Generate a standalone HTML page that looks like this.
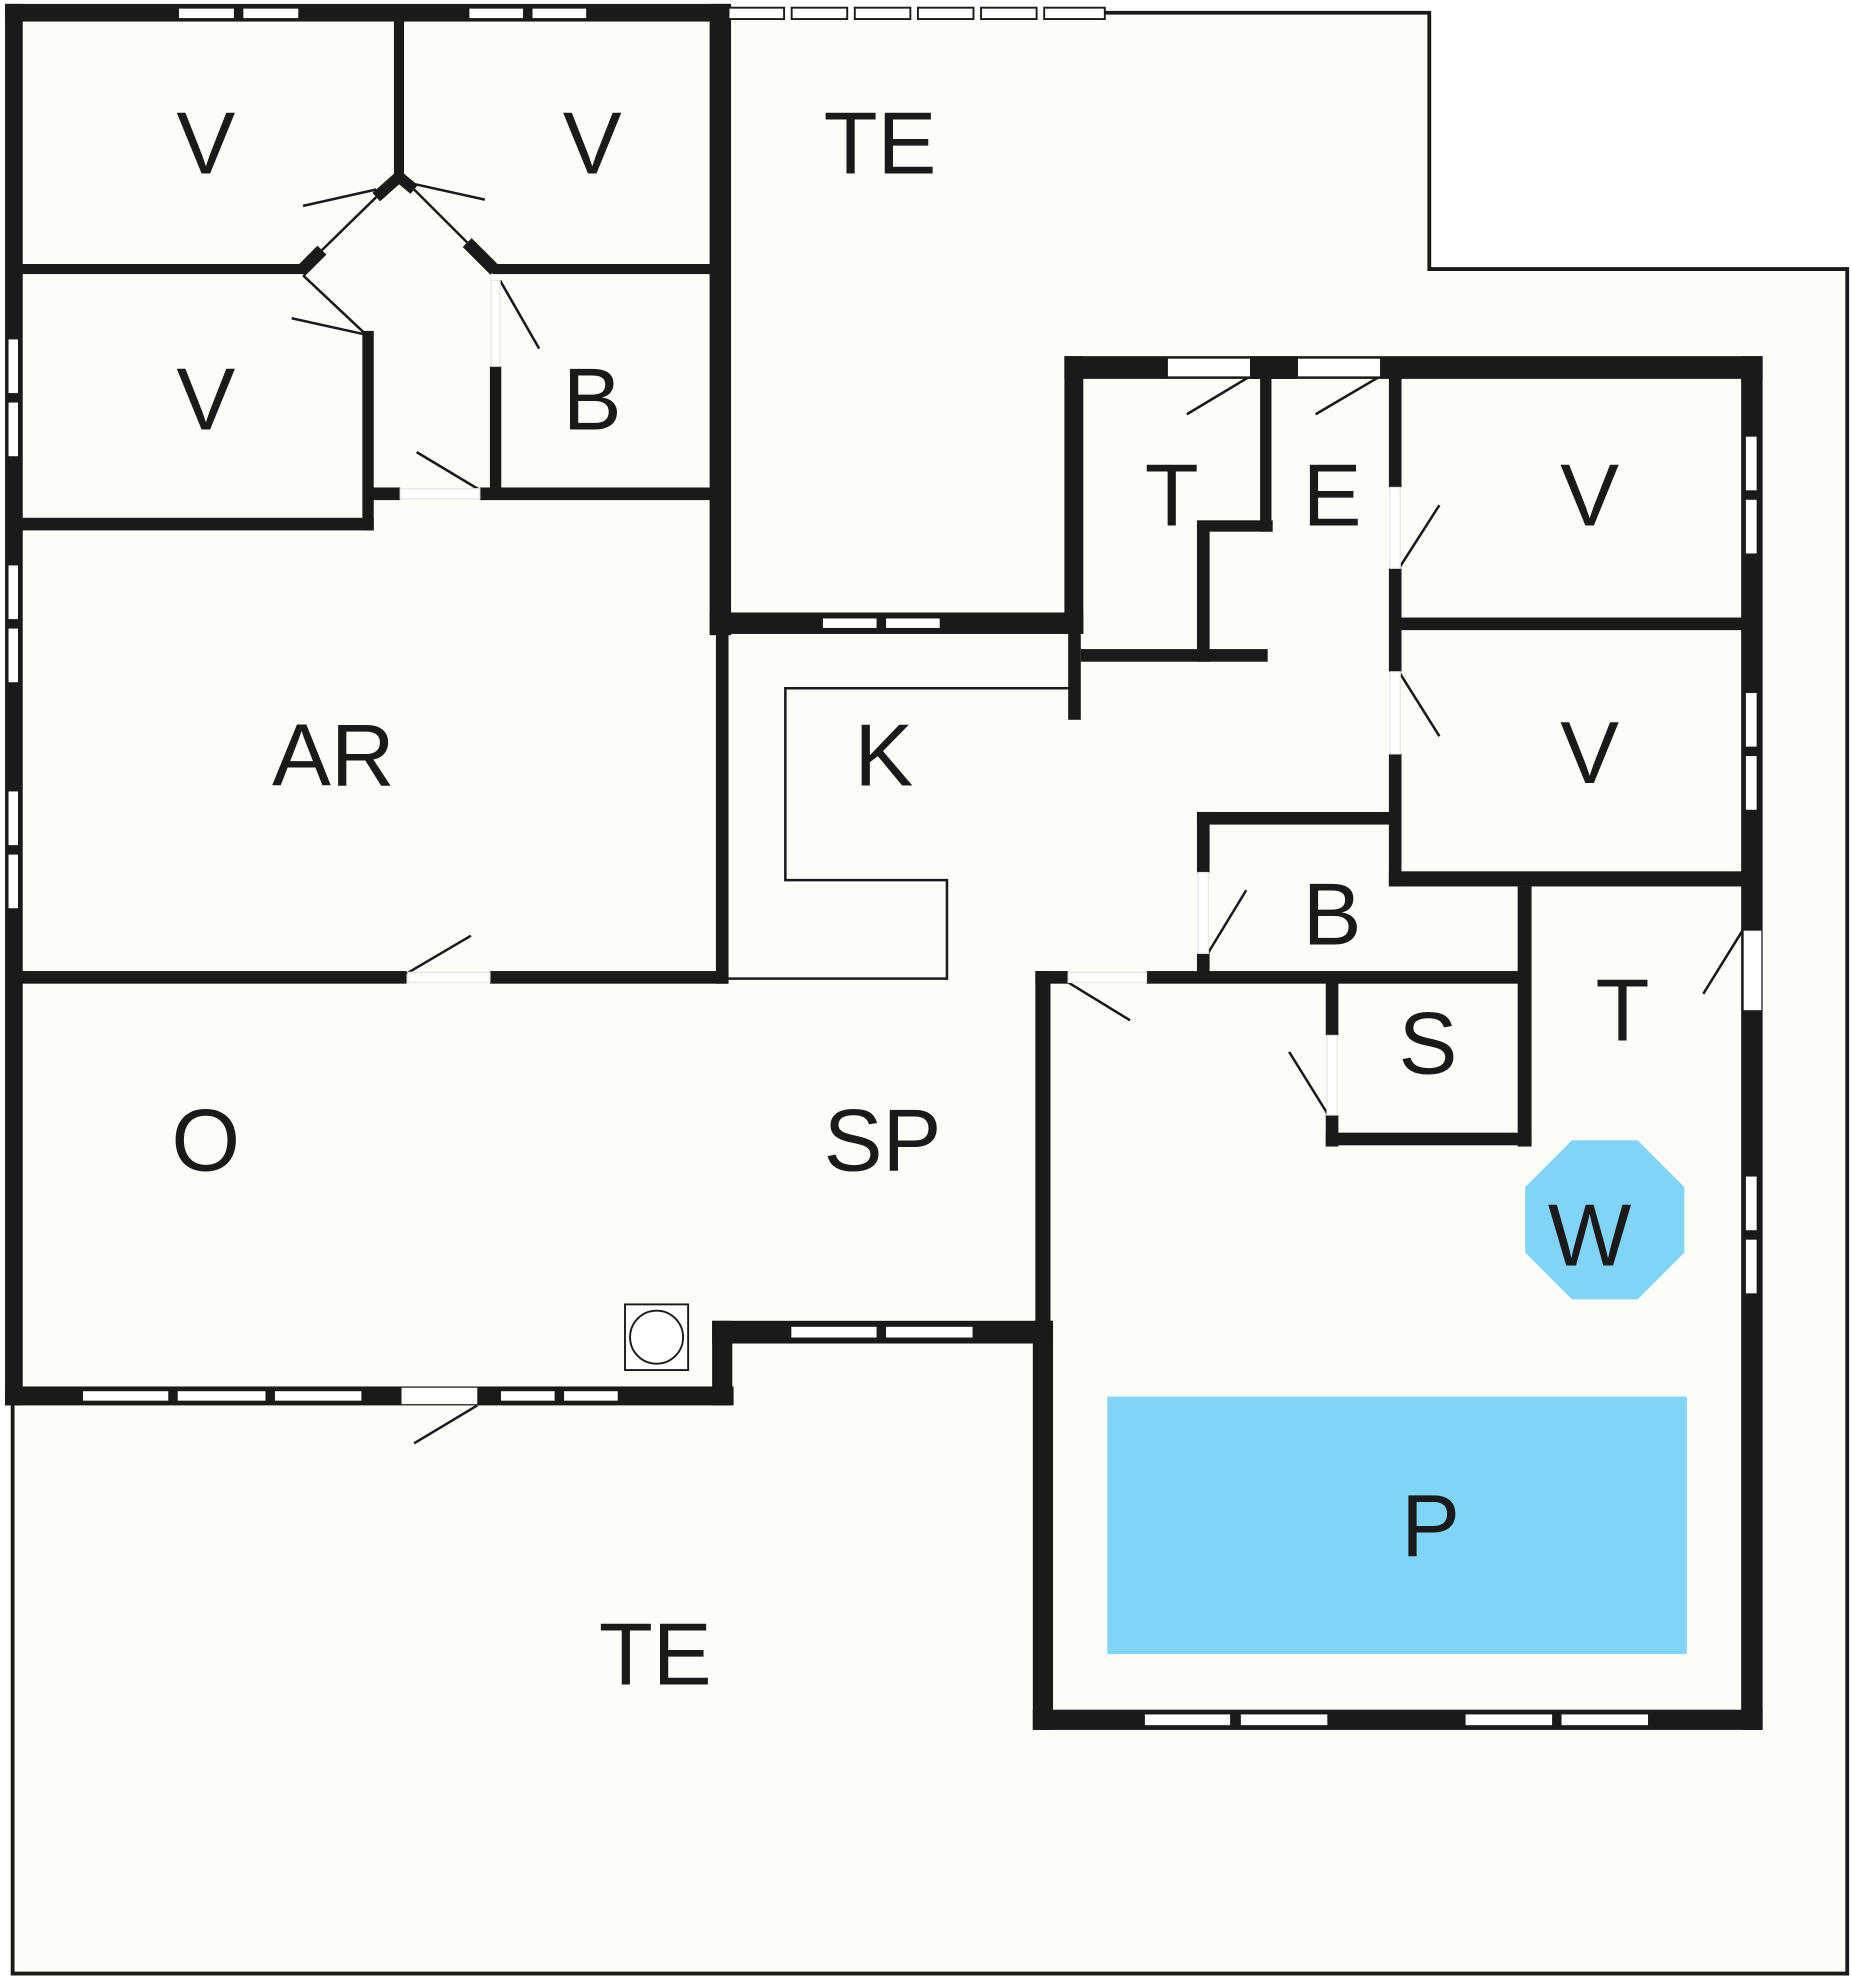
<!DOCTYPE html>
<html><head><meta charset="utf-8"><style>
html,body{margin:0;padding:0;background:#fff;}
svg{display:block;}
text{font-family:"Liberation Sans",sans-serif;font-size:70px;fill:#1a1a1a;text-anchor:middle;dominant-baseline:central;}
</style></head><body>
<svg width="1851" height="1980" viewBox="0 0 1466 1568" xmlns="http://www.w3.org/2000/svg">
<rect x="0" y="0" width="1466" height="1568" fill="#fff"/>
<polygon points="575,10 1132,10 1132,213 1463,213 1463,1563 10,1563 10,10" fill="#fdfdf8"/>
<polyline points="875,10 1132,10 1132,213 1463,213 1463,1563 10,1563 10,1112" fill="none" stroke="#1a1a1a" stroke-width="3"/>
<rect x="877" y="1106" width="459" height="204" fill="#80d4f7"/>
<polygon points="1245,903 1297,903 1334,940 1334,992 1297,1029 1245,1029 1208,992 1208,940" fill="#80d4f7"/>
<g fill="#1a1a1a">
<rect x="4" y="3" width="574" height="14"/>
<rect x="4" y="3" width="14" height="1110"/>
<rect x="4" y="1098" width="577" height="15"/>
<rect x="564" y="1046" width="16" height="67"/>
<rect x="564" y="1046" width="270" height="18"/>
<rect x="818" y="1046" width="16" height="324"/>
<rect x="818" y="1354" width="578" height="16"/>
<rect x="1379" y="282" width="17" height="1088"/>
<rect x="843" y="282" width="553" height="18"/>
<rect x="562" y="3" width="17" height="500"/>
<rect x="562" y="485" width="296" height="17"/>
<rect x="843" y="282" width="15" height="220"/>
<rect x="312" y="16" width="8" height="124"/>
<rect x="16" y="209" width="224" height="8"/>
<rect x="390" y="209" width="174" height="8"/>
<rect x="16" y="410" width="280" height="10"/>
<rect x="287" y="262" width="9" height="158"/>
<rect x="388" y="290" width="9" height="100"/>
<rect x="295" y="386" width="22" height="10"/>
<rect x="380" y="386" width="184" height="10"/>
<rect x="16" y="769" width="306" height="10"/>
<rect x="388" y="769" width="189" height="10"/>
<rect x="567" y="500" width="10" height="279"/>
<rect x="846" y="500" width="10" height="70"/>
<rect x="856" y="514" width="148" height="10"/>
<rect x="948" y="413" width="10" height="111"/>
<rect x="948" y="412" width="60" height="9"/>
<rect x="998" y="290" width="9" height="131"/>
<rect x="990" y="282" width="38" height="18"/>
<rect x="1100" y="290" width="10" height="96"/>
<rect x="1100" y="450" width="10" height="82"/>
<rect x="1100" y="597" width="10" height="105"/>
<rect x="1110" y="489" width="270" height="10"/>
<rect x="1100" y="690" width="280" height="12"/>
<rect x="948" y="643" width="10" height="48"/>
<rect x="948" y="755" width="10" height="20"/>
<rect x="948" y="643" width="160" height="10"/>
<rect x="820" y="769" width="26" height="10"/>
<rect x="908" y="769" width="302" height="10"/>
<rect x="1202" y="702" width="11" height="206"/>
<rect x="1050" y="778" width="10" height="42"/>
<rect x="1050" y="883" width="10" height="25"/>
<rect x="1050" y="897" width="163" height="10"/>
<rect x="820" y="769" width="12" height="280"/>
</g>
<g stroke="#1a1a1a" fill="none">
<line x1="316" y1="140" x2="298" y2="156" stroke-width="9"/>
<line x1="316" y1="140" x2="328" y2="150" stroke-width="9"/>
<line x1="255" y1="198" x2="238" y2="215" stroke-width="10"/>
<line x1="370" y1="192" x2="392" y2="214" stroke-width="10"/>
<line x1="298" y1="156" x2="255" y2="198" stroke-width="2"/>
<line x1="328" y1="150" x2="370" y2="192" stroke-width="2"/>
<line x1="240" y1="218" x2="290" y2="265" stroke-width="2"/>
<polyline points="848,545 622,545 622,697 750,697 750,775 577,775" stroke-width="2"/>
<g stroke-width="2">
<line x1="298" y1="150" x2="240" y2="163"/>
<line x1="325" y1="145" x2="384" y2="158"/>
<line x1="290" y1="265" x2="231" y2="252"/>
<line x1="396" y1="222" x2="427" y2="276"/>
<line x1="380" y1="388" x2="330" y2="358"/>
<line x1="322" y1="771" x2="373" y2="741"/>
<line x1="378" y1="1113" x2="328" y2="1143"/>
<line x1="990" y1="298" x2="940" y2="328"/>
<line x1="1093" y1="298" x2="1042" y2="328"/>
<line x1="1108" y1="450" x2="1140" y2="400"/>
<line x1="1108" y1="532" x2="1140" y2="583"/>
<line x1="956" y1="756" x2="987" y2="705"/>
<line x1="846" y1="778" x2="895" y2="808"/>
<line x1="1052" y1="883" x2="1021" y2="833"/>
<line x1="1380" y1="737" x2="1349" y2="787"/>
</g>
</g>
<g fill="#fff" stroke="#1a1a1a" stroke-width="1.5">
<rect x="141" y="6" width="45" height="9"/><rect x="192" y="6" width="45" height="9"/>
<rect x="371" y="6" width="44" height="9"/><rect x="421" y="6" width="44" height="9"/>
<rect x="577" y="6" width="44" height="9"/><rect x="627" y="6" width="44" height="9"/><rect x="677" y="6" width="44" height="9"/><rect x="727" y="6" width="44" height="9"/><rect x="777" y="6" width="44" height="9"/><rect x="827" y="6" width="48" height="9"/>
<rect x="6" y="268" width="9" height="44"/><rect x="6" y="318" width="9" height="44"/>
<rect x="6" y="447" width="9" height="44"/><rect x="6" y="497" width="9" height="44"/>
<rect x="6" y="626" width="9" height="44"/><rect x="6" y="676" width="9" height="44"/>
<rect x="651" y="489" width="44" height="9"/><rect x="701" y="489" width="44" height="9"/>
<rect x="65" y="1101" width="69" height="9"/><rect x="140" y="1101" width="71" height="9"/><rect x="217" y="1101" width="70" height="9"/>
<rect x="396" y="1101" width="44" height="9"/><rect x="446" y="1101" width="44" height="9"/>
<rect x="626" y="1050" width="69" height="10"/><rect x="701" y="1050" width="70" height="10"/>
<rect x="906" y="1357" width="69" height="10"/><rect x="982" y="1357" width="70" height="10"/>
<rect x="1160" y="1357" width="70" height="10"/><rect x="1236" y="1357" width="70" height="10"/>
<rect x="1382" y="345" width="10" height="44"/><rect x="1382" y="395" width="10" height="44"/>
<rect x="1382" y="548" width="10" height="44"/><rect x="1382" y="598" width="10" height="44"/>
<rect x="1382" y="931" width="10" height="44"/><rect x="1382" y="981" width="10" height="44"/>
</g>
<g fill="#fff">
<rect x="925" y="284" width="65" height="14"/>
<rect x="1028" y="284" width="65" height="14"/>
<rect x="1381" y="737" width="14" height="63"/>
<rect x="318" y="1099" width="60" height="13"/>
</g>
<g fill="#fff" stroke="#e4e4e0" stroke-width="1">
<rect x="317" y="387" width="63" height="8"/>
<rect x="389" y="222" width="7" height="68"/>
<rect x="323" y="770" width="65" height="8"/>
<rect x="949" y="691" width="8" height="64"/>
<rect x="1101" y="386" width="8" height="64"/>
<rect x="1101" y="532" width="8" height="65"/>
<rect x="1051" y="820" width="8" height="63"/>
<rect x="846" y="770" width="62" height="8"/>
</g>
<rect x="495" y="1033" width="50" height="52" fill="#fff" stroke="#1a1a1a" stroke-width="1.5"/>
<circle cx="520" cy="1059" r="21" fill="none" stroke="#1a1a1a" stroke-width="1.5"/>
<text x="163" y="113">V</text>
<text x="469" y="113">V</text>
<text x="697" y="113">TE</text>
<text x="163" y="316">V</text>
<text x="469" y="316">B</text>
<text x="928" y="392">T</text>
<text x="1055" y="392">E</text>
<text x="1259" y="392">V</text>
<text x="264" y="598">AR</text>
<text x="700" y="598">K</text>
<text x="1259" y="596">V</text>
<text x="1055" y="724">B</text>
<text x="1285" y="800">T</text>
<text x="1131" y="826">S</text>
<text x="163" y="903">O</text>
<text x="699" y="903">SP</text>
<text x="1259" y="978">W</text>
<text x="1133" y="1208">P</text>
<text x="519" y="1310">TE</text>
</svg>
</body></html>
